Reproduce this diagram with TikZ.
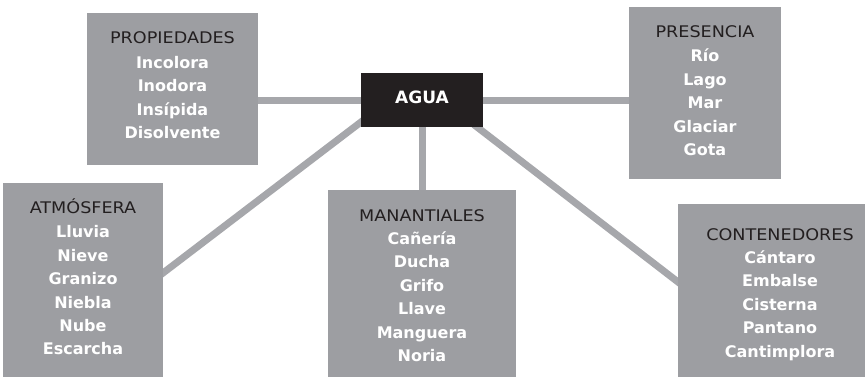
\documentclass[tikz,border=0pt]{standalone}
\usepackage{fontspec}
\setmainfont{DejaVu Sans}
\newfontfamily\titlefont[FakeStretch=1.1]{DejaVu Sans}
\usetikzlibrary{calc,backgrounds}
\definecolor{boxgray}{RGB}{157,158,162}
\definecolor{linegray}{RGB}{166,167,171}
\definecolor{ink}{RGB}{35,31,32}
\newcommand{\ttl}[1]{{\titlefont\mdseries\color{ink}\fontsize{16}{23.4}\selectfont #1}}
\begin{document}
\begin{tikzpicture}[x=1pt,y=-1pt,
  box/.style={fill=boxgray, draw=none, inner sep=0pt, outer sep=0pt},
  conn/.style={draw=linegray, line width=7pt, shorten <=-4pt, shorten >=-6pt},
  lbl/.style={anchor=base, inner sep=0pt, text=white, font=\fontsize{16}{23.4}\selectfont\bfseries},
  aguatxt/.style={inner sep=0pt, text=white, font=\fontsize{17}{20}\selectfont\bfseries}]
\useasboundingbox (0,0) rectangle (865,378);
% boxes
\node[box, minimum width=171, minimum height=152] (prop) at (172.5,89) {};
\node[box, fill=ink, minimum width=122, minimum height=54] (agua) at (422,100) {};
\node[box, minimum width=152, minimum height=172] (pres) at (705,93) {};
\node[box, minimum width=160, minimum height=194] (atmos) at (83,280) {};
\node[box, minimum width=188, minimum height=187] (manan) at (422,283.5) {};
\node[box, minimum width=204, minimum height=173] (cont) at (780,290.5) {};
% texts
\node[aguatxt] (aguat) at ($(agua)+(0,-2.5)$) {AGUA};
\node[lbl] (propt) at ($(prop.north)+(0,30)$) {\begin{tabular}[t]{@{}c@{}}\ttl{PROPIEDADES}\\[2pt] Incolora\\ Inodora\\ Insípida\\ Disolvente\end{tabular}};
\node[lbl] (prest) at ($(pres.north)+(0,30)$) {\begin{tabular}[t]{@{}c@{}}\ttl{PRESENCIA}\\[1.5pt] Río\\ Lago\\ Mar\\ Glaciar\\ Gota\end{tabular}};
\node[lbl] (atmost) at ($(atmos.north)+(0,30)$) {\begin{tabular}[t]{@{}c@{}}\ttl{ATMÓSFERA}\\[1.5pt] Lluvia\\ Nieve\\ Granizo\\ Niebla\\ Nube\\ Escarcha\end{tabular}};
\node[lbl] (manant) at ($(manan.north)+(0,31)$) {\begin{tabular}[t]{@{}c@{}}\ttl{MANANTIALES}\\ Cañería\\ Ducha\\ Grifo\\ Llave\\ Manguera\\ Noria\end{tabular}};
\node[lbl] (contt) at ($(cont.north)+(0,36)$) {\begin{tabular}[t]{@{}c@{}}\ttl{CONTENEDORES}\\ Cántaro\\ Embalse\\ Cisterna\\ Pantano\\ Cantimplora\end{tabular}};
% connectors
\begin{scope}[on background layer]
\fill[white] (0,0) rectangle (865,378);
\draw[conn] (agua.west) -- (agua.west -| prop.east);
\draw[conn] (agua.east) -- (agua.east -| pres.west);
\draw[conn] (agua.south) -- (agua.south |- manan.north);
\draw[conn] ($(agua.south west)+(0,-5)$) -- ($(atmos.east)+(0,-7)$);
\draw[conn] ($(agua.south east)+(-6,0)$) -- ($(cont.west)+(0,-8.5)$);
\end{scope}
\end{tikzpicture}
\end{document}
